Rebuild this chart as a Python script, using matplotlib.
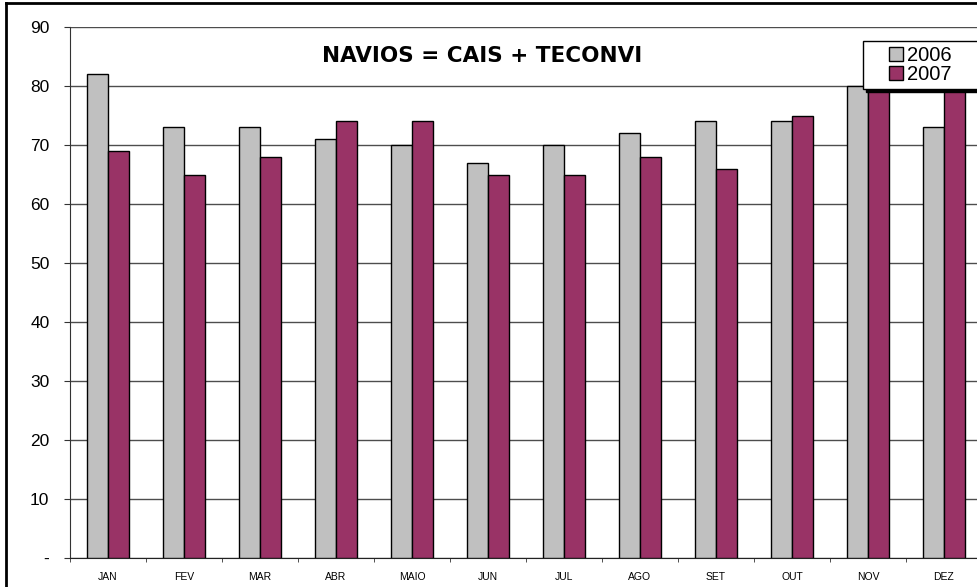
import matplotlib
matplotlib.use("Agg")
import matplotlib.pyplot as plt
import numpy as np
from matplotlib.patches import Rectangle, Patch
from matplotlib.lines import Line2D

months = ["JAN", "FEV", "MAR", "ABR", "MAIO", "JUN", "JUL", "AGO", "SET", "OUT", "NOV", "DEZ"]
v2006 = [82, 73, 73, 71, 70, 67, 70, 72, 74, 74, 80, 73]
v2007 = [69, 65, 68, 74, 74, 65, 65, 68, 66, 75, 83, 81]
yticks = [0, 10, 20, 30, 40, 50, 60, 70, 80, 90]
ylabels = ["-", "10", "20", "30", "40", "50", "60", "70", "80", "90"]
series_names = ["2006", "2007"]
title = "NAVIOS = CAIS + TECONVI"

plt.rcParams['font.family'] = ['Liberation Sans', 'DejaVu Sans']

W, H = 978, 587
fig = plt.figure(figsize=(W / 100, H / 100), dpi=100)
fig.patch.set_facecolor('white')

x0, x1 = 70, 982
y0, y1 = 558, 27
ax = fig.add_axes([x0 / W, 1 - y0 / H, (x1 - x0) / W, (y0 - y1) / H])
ax.set_facecolor('white')

c06, c07 = '#C0C0C0', '#993366'
x = np.arange(len(months))
bw = 0.276
ax.bar(x - bw / 2, v2006, bw, color=c06, edgecolor='black', linewidth=1.0, zorder=3)
ax.bar(x + bw / 2, v2007, bw, color=c07, edgecolor='black', linewidth=1.0, zorder=3)

ax.set_xlim(-0.5, len(months) - 0.5)
ax.set_ylim(0, 90)
ax.set_yticks(yticks)
ax.set_yticklabels(ylabels, fontsize=12.5)
ax.yaxis.grid(True, color='#4d4d4d', linewidth=1.0, zorder=0)
ax.set_axisbelow(True)

ax.set_xticks(x)
ax.set_xticklabels(months, fontsize=7.5)
ax.set_xticks(np.arange(len(months) + 1) - 0.5, minor=True)
ax.tick_params(axis='x', which='major', length=0, pad=10)
ax.tick_params(axis='x', which='minor', length=3, direction='out', color='#333333')
ax.tick_params(axis='y', length=4.3, direction='out', color='#333333', pad=10.5)

for s in ['top', 'right']:
    ax.spines[s].set_visible(False)
ax.spines['left'].set_color('#333333')
ax.spines['bottom'].set_color('#222222')

fig.text(482 / W, 1 - 56 / H, title, fontsize=15.5, fontweight='bold', ha='center', va='center',
         family=['DejaVu Sans'])

# legend frame with shadow (Excel style), extending past the right edge
lx0, ly0, lx1, ly1 = 863, 41, 990, 89
fig.add_artist(Rectangle(((lx0 + 3) / W, 1 - (ly1 + 3) / H),
                         (lx1 - lx0) / W, (ly1 - ly0) / H, transform=fig.transFigure,
                         facecolor='black', edgecolor='black', zorder=5))
fig.add_artist(Rectangle((lx0 / W, 1 - ly1 / H), (lx1 - lx0) / W, (ly1 - ly0) / H,
                         transform=fig.transFigure, facecolor='white', edgecolor='black',
                         linewidth=1.0, zorder=6))

handles = [Patch(facecolor=c06, edgecolor='black', linewidth=1.0),
           Patch(facecolor=c07, edgecolor='black', linewidth=1.0)]
leg = fig.legend(handles, series_names, loc='upper left', bbox_to_anchor=(889 / W, 1 - 46 / H),
                 bbox_transform=fig.transFigure, fontsize=14.5, frameon=False,
                 labelspacing=0.0, handlelength=0.7, handleheight=0.7, handletextpad=0.2,
                 borderpad=0, borderaxespad=0)
leg.set_zorder(7)

# outer chart frame
fig.add_artist(Line2D([6 / W, 6 / W], [0, 1 - 3 / H], color='black', linewidth=2, transform=fig.transFigure))
fig.add_artist(Line2D([6 / W, 1], [1 - 3 / H, 1 - 3 / H], color='black', linewidth=2, transform=fig.transFigure))

fig.savefig('out.png', dpi=100)
